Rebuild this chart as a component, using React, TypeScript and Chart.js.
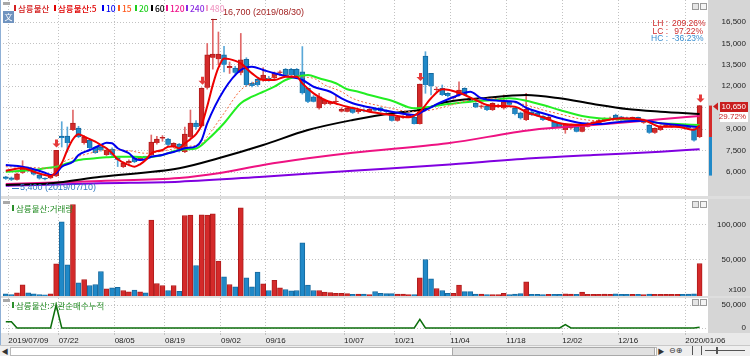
import React, { useEffect, useRef } from 'react';
import { Chart, registerables } from 'chart.js';

Chart.register(...registerables);

// ---------------- data ----------------
const tickIdx = [0, 9, 19, 28, 38, 46, 60, 69, 79, 89, 99, 109, 121];
const tickLabels = ['2019/07/09', '07/22', '08/05', '08/19', '09/02', '09/16', '10/07', '10/21', '11/04', '11/18', '12/02', '12/16', '2020/01/06'];

const opens = [5670,5600,5450,5950,6300,6100,5800,5560,5560,5700, 8520,8520,8940,9080,8030,8240,7750,7750,7190,7600, 7000,6350,6630,6980,6910,7080,7190,8030,8350,8300, 7750,7950,7400,8450,9430,9200,11900,14000,13900,14200, 13300,13280,12950,13890,12210,12490,12440,12560,12560,12950, 13190,13190,13190,13020,11860,11270,10460,10760,10760,10900, 10230,10220,10460,10200,10340,10250,10400,10500,10300,10060, 9590,9800,9850,9830,9360,14120,12900,11740,11860,11500, 11160,11390,11860,11160,10810,10570,10620,10340,10530,10460, 10900,10460,10150,9640,10220,10150,9920,9640,9500,9400, 8940,9060,9170,8820,9170,9360,9410,9590,9700,9990, 9870,9800,9700,9830,9450,9290,8750,8940,9170,9170, 9130,9250,9150,9000,8450];
const highs = [5700,5650,5950,6790,6350,6150,5820,5600,5800,7510, 9520,9150,10340,9200,8550,8300,7800,7900,7600,7700, 7050,6700,6850,7000,7100,7100,8590,8500,8550,8350, 8050,8000,9150,10340,9600,11900,15000,16700,15800,14800, 13700,13400,15700,14000,12300,12600,13300,12700,13000,13100, 13250,13250,13250,14780,11900,11350,11500,11100,10950,11300, 10500,10500,10550,10400,10420,10450,10500,10550,10350,10100, 9900,9950,10050,9900,12160,14420,12910,11950,12090,11550, 11300,12320,11900,11200,10850,10700,10650,10850,10750,11390, 10950,10500,10200,11510,10300,10200,9950,9900,9550,9450, 9400,9350,9200,9250,9450,9550,9700,9800,9850,10050, 9900,9850,9850,9850,9700,9300,9100,9250,9330,9330, 9330,9300,9200,9050,10650];
const lows = [5480,5400,5430,5900,6050,5780,5500,5450,5520,5680, 7750,7400,8900,8400,7950,7600,7300,7450,7150,7100, 6380,6300,6550,6650,6850,7000,7150,7950,8150,7850, 7700,7400,7350,8400,9000,9150,11800,13200,13500,13000, 12900,12850,12800,12000,11950,12000,12350,12350,12500,12800, 12700,12700,12650,11450,10850,10900,10400,10700,10700,10800, 10200,10200,10100,10100,10200,10200,10250,10200,10150,9550, 9550,9750,9800,9350,9350,11510,11390,11600,11350,11250, 11100,11300,11350,10900,10500,10450,10300,10300,10500,10400, 10650,10000,9700,9600,9950,9880,9600,9600,9100,9100, 8710,9000,8800,8800,9150,9300,9400,9550,9650,9650, 9650,9650,9650,9600,9400,8700,8700,8900,9130,9130, 9100,9100,9000,8150,8400];
const closes = [5520,5450,5880,6330,6150,5820,5550,5500,5780,7510, 8380,8030,9430,8450,8450,7680,7330,7540,7540,7200, 6850,6630,6770,6700,7050,7040,8100,8310,8380,7900, 8000,7450,8660,9430,9150,11850,14200,14260,14250,13500, 13400,12950,13850,12090,12020,12090,12790,12480,12900,12980, 12790,12790,12670,11510,10920,10920,11270,11040,10920,10950, 10390,10460,10150,10340,10250,10400,10300,10250,10200,9590, 9870,9870,9990,9360,12160,12090,12000,11800,11390,11320, 11270,11740,11390,10920,10530,10600,10340,10810,10690,10920, 10700,10060,9760,10390,9990,9920,9640,9830,9150,9130, 9360,9290,8820,9220,9410,9520,9640,9760,9750,9690, 9690,9700,9820,9640,9640,8750,9060,9220,9290,9290, 9290,9150,9050,8210,10650];
// volume (x100 shares)
const volumes = [1700,700,3100,14600,3100,1700,700,400,1700,44600, 104600,43100,129300,17400,22100,13600,15000,33600,8900,10300, 11100,6400,4600,6900,4600,3100,106900,16400,13600,6400, 13600,5400,113600,114000,42100,114400,114000,116000,48300,26000, 15000,11700,124600,24500,11700,32600,16000,6400,21100,10300, 7900,6000,6400,74600,14000,6400,6400,4000,3300,2400, 2400,2000,1000,1300,1300,700,5000,2400,2000,2000, 1300,1300,700,700,24500,50700,23100,9300,6400,2400, 2400,14000,4800,4800,1300,1300,700,700,700,2400, 700,1300,2000,18900,900,800,700,900,1000,800, 1500,1200,1000,4000,900,1000,900,1200,800,1500, 1000,900,800,900,700,1200,900,1000,800,900, 1000,900,1200,1500,45000];
// institutional net buying, cumulative
const instCum = [13700,13700,0,0,0,0,0,0,0,50000, 0,0,0,0,0,0,0,0,0,0, 0,0,0,0,0,0,0,0,0,0, 0,0,0,0,0,0,0,0,0,0, 0,0,0,0,0,0,0,0,0,0, 0,0,0,0,0,0,0,0,0,0, 0,0,0,0,0,0,0,0,0,0, 0,0,0,0,18900,0,0,0,0,0, 0,0,0,0,0,0,0,0,0,0, 0,0,0,0,0,0,0,0,0,0, 7200,0,0,0,0,0,0,0,0,0, 0,0,0,0,0,0,0,0,0,0, 0,0,0,0,1500];

// moving averages: [candle index, price]
const ma5 = [[0,6090],[3,6260],[5,6020],[7,5790],[8,5720],[9,6020],[10,6610],[11,7540],[12,8290],[13,8640],[14,8470],[16,8120],[17,7890],[18,7660],[19,7310],[20,6890],[22,6490],[23,6370],[24,6540],[25,6840],[26,7310],[28,7540],[29,7770],[30,7800],[31,7660],[32,8010],[33,8300],[34,8650],[35,9300],[36,10600],[37,12100],[38,13300],[39,13950],[40,13900],[42,13600],[44,12900],[46,12440],[48,12440],[50,12670],[52,12670],[53,12200],[55,11500],[57,11040],[59,10800],[61,10570],[63,10400],[65,10220],[69,9990],[72,9830],[74,10220],[76,11160],[78,11790],[81,11550],[84,11040],[86,10690],[88,10620],[91,10570],[93,10200],[96,9830],[99,9410],[103,9290],[106,9520],[110,9760],[114,9640],[117,9170],[120,9170],[123,8950],[124,9270]];
const ma10 = [[0,6490],[3,6370],[5,6190],[7,5950],[8,5790],[9,5910],[10,6370],[12,6720],[13,7190],[15,7540],[17,7890],[18,8050],[19,8010],[20,7660],[22,7310],[23,6960],[24,6840],[25,6890],[26,7070],[28,7190],[29,7310],[30,7400],[32,7660],[34,7800],[35,8240],[36,9400],[39,11740],[42,13140],[44,13370],[46,13140],[48,12910],[50,12720],[53,12440],[55,11970],[58,11620],[60,11160],[62,10810],[65,10530],[69,10220],[73,9990],[75,10340],[78,10920],[81,11390],[83,11620],[85,11160],[88,10990],[91,10920],[93,10500],[96,10110],[99,9760],[103,9410],[106,9360],[110,9520],[114,9590],[117,9410],[120,9290],[124,9130]];
const ma15 = [[0,6370],[4,6330],[8,6260],[11,6840],[15,7310],[18,7540],[22,7490],[25,7310],[29,7540],[32,7770],[35,8010],[36,8470],[39,10110],[42,11740],[44,12210],[47,12560],[50,12790],[52,12670],[55,12560],[57,12090],[60,11620],[62,11150],[67,10620],[73,10220],[76,10340],[79,10620],[83,11040],[87,11160],[90,10920],[93,10690],[96,10340],[99,10060],[103,9690],[106,9590],[110,9640],[114,9590],[117,9360],[120,9220],[124,9130]];
const ma20 = [[0,6020],[3,6090],[5,6140],[7,6260],[9,6370],[11,6610],[13,6840],[16,6960],[18,7030],[20,7070],[23,7070],[25,7030],[28,7190],[30,7450],[32,7590],[34,7650],[36,8240],[39,9410],[42,10810],[44,11270],[46,11620],[48,11970],[50,12440],[52,12670],[54,12790],[56,12560],[59,12210],[61,11790],[63,11620],[65,11390],[69,10990],[73,10460],[76,10570],[79,10760],[83,10920],[87,11040],[90,11160],[93,10990],[96,10690],[99,10340],[103,9920],[106,9760],[110,9690],[114,9590],[117,9410],[120,9360],[124,9290]];
const ma60 = [[0,5090],[8,5210],[17,5670],[31,6260],[38,6960],[46,7890],[54,8940],[62,9640],[69,10110],[74,10340],[79,10920],[85,11160],[93,11390],[99,11160],[105,10760],[111,10410],[117,10220],[124,10060]];
const ma120 = [[0,5160],[17,5370],[31,5580],[38,5910],[46,6490],[54,6960],[62,7350],[79,8010],[94,8940],[105,9290],[117,9690],[124,9920]];
const ma240 = [[0,5040],[17,5210],[31,5320],[46,5670],[62,6090],[78,6490],[94,6960],[105,7190],[117,7420],[124,7590]];

const signalIdx = [9, 35, 74, 124];
const highDate = '2019/08/30';
const lowDate = '2019/07/10';
const priceTicks = [6000, 7500, 9000, 10500, 12000, 13500, 15000, 16500];
const volTicks = [50000, 100000];
const instTicks = [0, 50000];

// ---------------- style ----------------
const W = 750;
const PLOT_L = 3;
const PLOT_R = 708;
const NUM_FONT = '"Liberation Sans", Arial, sans-serif';
const KR_FONT = '"Noto Sans CJK KR", "Noto Sans", sans-serif';
const UP = '#d42a2a', UP_B = '#b01c1c', UP_W = '#e06868';
const DN = '#2089c8', DN_B = '#16699e', DN_W = '#5aa8d8';
const GRID = '#c2c2c2';

const n = closes.length;
const isUp = closes.map((c, i) => c >= opens[i]);
const fmt = (v: number) => Math.round(v).toLocaleString('en-US');

const PRICE_MIN = 4320, PRICE_MAX = 18040;
const VOL_MIN = -1429, VOL_MAX = 137143;
const INST_MIN = -10870, INST_MAX = 65220;

function xScale(showLabels: boolean) {
  return {
    type: 'linear',
    min: -0.5,
    max: n + 0.5,
    offset: false,
    afterBuildTicks: (s: any) => { s.ticks = tickIdx.map((i) => ({ value: i + 0.45 })); },
    ticks: {
      display: showLabels, autoSkip: false, maxRotation: 0, minRotation: 0, align: 'start', padding: 1,
      color: '#222', font: { family: NUM_FONT, size: 8 },
      callback: (_v: any, k: number) => tickLabels[k],
    },
    grid: { offset: false, color: GRID, lineWidth: 1, drawTicks: showLabels, tickLength: 2 },
    border: { display: false, dash: [1, 2] },
    afterFit: (s: any) => { s.height = showLabels ? 12 : 0; },
  };
}

function yScale(min: number, max: number, ticks: number[]) {
  return {
    type: 'linear', position: 'right', min, max,
    afterBuildTicks: (s: any) => { s.ticks = ticks.map((v) => ({ value: v })); },
    ticks: { display: false },
    grid: { color: GRID, lineWidth: 1, drawTicks: false },
    border: { display: false, dash: [1, 2] },
    afterFit: (s: any) => { s.width = W - PLOT_R; },
  };
}

const axisLabels = (extra?: string) => ({
  id: 'axisLabels',
  afterDraw(chart: any) {
    const ys = chart.scales.y; const ctx = chart.ctx;
    ctx.save();
    ctx.font = `8px ${NUM_FONT}`;
    ctx.fillStyle = '#1e1e1e'; ctx.textAlign = 'right'; ctx.textBaseline = 'middle';
    ys.ticks.forEach((t: any) => ctx.fillText(fmt(t.value), W - 4, ys.getPixelForValue(t.value)));
    if (extra) ctx.fillText(extra, W - 4, chart.chartArea.bottom - 6);
    ctx.restore();
  },
});

const topDecor = {
  id: 'topDecor',
  afterDatasetsDraw(chart: any) {
    const ctx = chart.ctx, xs = chart.scales.x, ys = chart.scales.y;
    ctx.save();
    ctx.fillStyle = '#e53a3a';
    signalIdx.forEach((i) => {
      const x = Math.round(xs.getPixelForValue(i)) + 0.5;
      const tip = ys.getPixelForValue(highs[i]) - 3;
      ctx.beginPath();
      ctx.moveTo(x, tip); ctx.lineTo(x - 4, tip - 4); ctx.lineTo(x - 1.5, tip - 4); ctx.lineTo(x - 1.5, tip - 8);
      ctx.lineTo(x + 1.5, tip - 8); ctx.lineTo(x + 1.5, tip - 4); ctx.lineTo(x + 4, tip - 4); ctx.closePath(); ctx.fill();
    });
    const hi = Math.max(...highs), hiI = highs.indexOf(hi);
    const hx = Math.round(xs.getPixelForValue(hiI)), hy = Math.round(ys.getPixelForValue(hi));
    ctx.strokeStyle = '#9e1f1f'; ctx.lineWidth = 1;
    ctx.beginPath(); ctx.moveTo(hx - 2, hy + 0.5); ctx.lineTo(hx + 4, hy + 0.5); ctx.stroke();
    ctx.font = `9px ${NUM_FONT}`; ctx.fillStyle = '#a32323'; ctx.textAlign = 'left'; ctx.textBaseline = 'middle';
    ctx.fillText(`${fmt(hi)} (${highDate})`, hx + 10, hy - 6);
    const lo = Math.min(...lows), loI = lows.indexOf(lo);
    const lx = Math.round(xs.getPixelForValue(loI)), ly = Math.round(ys.getPixelForValue(lo)) + 7;
    ctx.strokeStyle = '#2f78c0';
    ctx.beginPath(); ctx.moveTo(lx + 1, ly + 0.5); ctx.lineTo(lx + 8, ly + 0.5); ctx.stroke();
    ctx.fillStyle = '#2f78c0';
    ctx.fillText(`${fmt(lo)} (${lowDate})`, lx + 9, ly);
    ctx.restore();
  },
  afterDraw(chart: any) {
    const ctx = chart.ctx, ys = chart.scales.y;
    const last = closes[n - 1], prev = closes[n - 2], open = opens[n - 1];
    const lowerLimit = Math.round((prev * 0.7) / 10) * 10;
    const yC = ys.getPixelForValue(last), yO = ys.getPixelForValue(open), yL = ys.getPixelForValue(lowerLimit);
    const ax = chart.chartArea.right;
    ctx.save();
    ctx.fillStyle = UP; ctx.fillRect(ax + 1, yC, 3, yO - yC);
    ctx.fillStyle = DN; ctx.fillRect(ax + 1, yO, 3, yL - yO);
    ctx.fillStyle = '#c81e1e';
    ctx.beginPath(); ctx.moveTo(ax + 5, yC + 1); ctx.lineTo(ax + 10, yC - 3); ctx.lineTo(ax + 10, yC + 5); ctx.closePath(); ctx.fill();
    ctx.fillRect(ax + 12, Math.round(yC) - 4, 28, 10);
    ctx.fillStyle = '#ffffff'; ctx.fillRect(ax + 12, Math.round(yC) + 6, 28, 10);
    ctx.font = `8px ${NUM_FONT}`; ctx.textAlign = 'right'; ctx.textBaseline = 'middle';
    ctx.fillStyle = '#ffffff'; ctx.fillText(fmt(last), W - 4, Math.round(yC) + 1);
    ctx.fillStyle = '#c81e1e'; ctx.fillText(`${((last / prev - 1) * 100).toFixed(2)}%`, W - 4, Math.round(yC) + 11);
    ctx.restore();
  },
};

const maLine = (pts: number[][], color: string, width: number, dash: number[] = [], order = 1) => ({
  type: 'line',
  data: pts.map(([x, y]) => ({ x, y })),
  borderColor: color, borderWidth: width, borderDash: dash,
  pointRadius: 0, cubicInterpolationMode: 'monotone', spanGaps: true, order,
});

const hi = Math.max(...highs), lo = Math.min(...lows), lastClose = closes[n - 1];
const statLines = [
  { label: 'LH :', val: `${((hi / lo - 1) * 100).toFixed(2)}%`, color: '#cf2b2b' },
  { label: 'LC :', val: `${((lastClose / lo - 1) * 100).toFixed(2)}%`, color: '#cf2b2b' },
  { label: 'HC :', val: `${((lastClose / hi - 1) * 100).toFixed(2)}%`, color: '#3a8fd0' },
];

const legendItems = [
  { x: 14, text: '삼륭물산', color: '#d42020' },
  { x: 54, text: '삼륭물산:5', color: '#e00000' },
  { x: 102, text: '10', color: '#0000f0' },
  { x: 118, text: '15', color: '#ff5a1e' },
  { x: 135, text: '20', color: '#1ecf1e' },
  { x: 151, text: '60', color: '#000000' },
  { x: 166, text: '120', color: '#f0148c' },
  { x: 186, text: '240', color: '#8a2be2' },
  { x: 206, text: '480', color: '#f2a0c8' },
];

function PanelButtons({ top }: { top: number }) {
  return (
    <>
      <div style={{ position: 'absolute', left: 692, top, width: 5, height: 5, border: '1px solid #9a9a9a', background: '#e6e6e6' }} />
      <div style={{ position: 'absolute', left: 700, top, width: 5, height: 5, border: '1px solid #9a9a9a', background: '#f4f4f4' }} />
    </>
  );
}

function PanelMenu({ top }: { top: number }) {
  return <div style={{ position: 'absolute', left: 3, top, width: 7, height: 3, background: '#a8a8a8' }} />;
}

export default function App() {
  const topRef = useRef<HTMLCanvasElement>(null);
  const volRef = useRef<HTMLCanvasElement>(null);
  const instRef = useRef<HTMLCanvasElement>(null);

  useEffect(() => {
    Chart.defaults.font.family = NUM_FONT;
    const common = {
      responsive: false, animation: false, events: [],
      layout: { padding: { left: PLOT_L, right: 0, top: 0, bottom: 0 } },
    };
    const top = new Chart(topRef.current as HTMLCanvasElement, {
      type: 'bar',
      data: {
        datasets: [
          maLine(ma240, '#8000e0', 2, [], 7),
          maLine(ma120, '#ee1282', 2, [], 6),
          maLine(ma60, '#000000', 2, [], 5),
          maLine(ma20, '#22ee22', 2, [], 4),
          maLine(ma15, '#f56a3c', 1, [2, 2], 3),
          maLine(ma10, '#0000ee', 2, [], 2),
          maLine(ma5, '#ee0000', 2, [], 1),
          {
            type: 'bar', order: 10, grouped: false, barThickness: 5, borderWidth: 1, minBarLength: 1,
            data: closes.map((c, i) => ({ x: i, y: [opens[i], c] })),
            backgroundColor: isUp.map((u) => (u ? UP : DN)),
            borderColor: isUp.map((u) => (u ? UP_B : DN_B)),
          },
          {
            type: 'bar', order: 11, grouped: false, barThickness: 1, borderWidth: 0,
            data: highs.map((h, i) => ({ x: i, y: [lows[i], h] })),
            backgroundColor: isUp.map((u) => (u ? UP_W : DN_W)),
          },
        ],
      },
      options: {
        ...common,
        plugins: { legend: { display: false }, tooltip: { enabled: false } },
        scales: { x: xScale(false), y: yScale(PRICE_MIN, PRICE_MAX, priceTicks) },
      },
      plugins: [axisLabels(), topDecor],
    } as any);

    const vol = new Chart(volRef.current as HTMLCanvasElement, {
      type: 'bar',
      data: {
        datasets: [{
          data: volumes.map((v, i) => ({ x: i, y: v })),
          base: VOL_MIN, barThickness: 5, borderWidth: 1, grouped: false,
          backgroundColor: isUp.map((u) => (u ? UP : DN)),
          borderColor: isUp.map((u) => (u ? UP_B : DN_B)),
        }],
      },
      options: {
        ...common,
        plugins: { legend: { display: false }, tooltip: { enabled: false } },
        scales: { x: xScale(false), y: yScale(VOL_MIN, VOL_MAX, volTicks) },
      },
      plugins: [axisLabels('x100')],
    } as any);

    const inst = new Chart(instRef.current as HTMLCanvasElement, {
      type: 'line',
      data: {
        datasets: [{
          data: instCum.map((v, i) => ({ x: i, y: v })),
          borderColor: '#0c6e0c', borderWidth: 1.5, pointRadius: 0, tension: 0,
        }],
      },
      options: {
        ...common,
        plugins: { legend: { display: false }, tooltip: { enabled: false } },
        scales: { x: xScale(true), y: yScale(INST_MIN, INST_MAX, instTicks) },
      },
      plugins: [axisLabels()],
    } as any);

    return () => { top.destroy(); vol.destroy(); inst.destroy(); };
  }, []);

  const abs = (o: any) => ({ position: 'absolute', ...o });

  return (
    <div style={{ position: 'fixed', left: 0, top: 0, width: 750, height: 356, background: '#ffffff', overflow: 'hidden', fontFamily: KR_FONT }}>
      {/* frame backgrounds */}
      <div style={abs({ left: PLOT_R, top: 0, width: W - PLOT_R, height: 345, background: '#d6d6d6' })} />
      <div style={abs({ left: 0, top: 196, width: W, height: 3, background: '#dedede' })} />
      <div style={abs({ left: 0, top: 296, width: W, height: 2, background: '#dedede' })} />
      <div style={abs({ left: 0, top: 333, width: W, height: 12, background: '#e9e9e9' })} />
      <div style={abs({ left: 0, top: 0, width: 1, height: 345, background: '#8fb0d6' })} />

      <canvas ref={topRef} width={750} height={196} style={abs({ left: 0, top: 0 })} />
      <canvas ref={volRef} width={750} height={97} style={abs({ left: 0, top: 199 })} />
      <canvas ref={instRef} width={750} height={47} style={abs({ left: 0, top: 298 })} />

      {/* top legend */}
      <PanelMenu top={2} />
      <div style={abs({ left: 3, top: 11, width: 11, height: 12, background: '#6f93bf', color: '#fff', fontSize: 8, lineHeight: '12px', textAlign: 'center' })}>文</div>
      {legendItems.map((it) => (
        <div key={it.text} style={abs({ left: it.x, top: 3, height: 10, display: 'flex', alignItems: 'center', whiteSpace: 'nowrap' })}>
          <span style={{ display: 'inline-block', width: 2, height: 6, background: it.color, marginRight: 2 }} />
          <span style={{ color: it.color, fontSize: 8.5, lineHeight: '10px', fontWeight: 500 }}>{it.text}</span>
        </div>
      ))}
      <PanelButtons top={3} />

      {/* stats */}
      {statLines.map((s, k) => (
        <div key={s.label} style={abs({ right: 47, top: 19 + k * 7.6, fontFamily: NUM_FONT, fontSize: 8.5, lineHeight: '9px', color: s.color, whiteSpace: 'pre', textAlign: 'right', display: 'flex', gap: 4 })}>
          <span>{s.label}</span><span style={{ display: 'inline-block', width: 31, textAlign: 'right' }}>{s.val}</span>
        </div>
      ))}

      {/* volume legend */}
      <PanelMenu top={201} />
      <div style={abs({ left: 12, top: 203, height: 10, display: 'flex', alignItems: 'center', whiteSpace: 'nowrap' })}>
        <span style={{ display: 'inline-block', width: 2, height: 6, background: '#2a8f2a', marginRight: 2 }} />
        <span style={{ color: '#2a8f2a', fontSize: 8.5, lineHeight: '10px' }}>삼륭물산:거래량</span>
      </div>
      <PanelButtons top={201} />

      {/* institution legend */}
      <PanelMenu top={299} />
      <div style={abs({ left: 12, top: 300, height: 10, display: 'flex', alignItems: 'center', whiteSpace: 'nowrap' })}>
        <span style={{ display: 'inline-block', width: 2, height: 6, background: '#2a8f2a', marginRight: 2 }} />
        <span style={{ color: '#2a8f2a', fontSize: 8.5, lineHeight: '10px' }}>삼륭물산:기관순매수누적</span>
      </div>
      <PanelButtons top={299} />

      {/* scrollbar */}
      <div style={abs({ left: 0, top: 345, width: W, height: 11, background: '#efefef', borderTop: '1px solid #c9c9c9' })} />
      <div style={abs({ left: 1, top: 347, width: 8, height: 8, fontSize: 7, lineHeight: '8px', color: '#333', textAlign: 'center' })}>◀</div>
      <div style={abs({ left: 10, top: 347, width: 645, height: 7, background: '#ffffff', border: '1px solid #b9b9b9' })} />
      <div style={abs({ left: 452, top: 347, width: 201, height: 7, background: '#e1e1e1', border: '1px solid #a9a9a9' })} />
      <div style={abs({ left: 657, top: 347, width: 8, height: 8, fontSize: 7, lineHeight: '8px', color: '#333', textAlign: 'center' })}>▶</div>
      <div style={abs({ left: 669, top: 347, fontSize: 8, lineHeight: '8px', color: '#333', fontFamily: 'DejaVu Sans' })}>⊖⊕</div>
      <div style={abs({ left: 692, top: 346, width: 8, height: 9, borderLeft: '1px solid #555', borderRight: '1px solid #555' })} />
      <div style={abs({ left: 705, top: 350, width: 40, height: 1, background: '#555' })} />
      <div style={abs({ left: 716, top: 347, width: 2, height: 7, background: '#555' })} />
    </div>
  );
}
